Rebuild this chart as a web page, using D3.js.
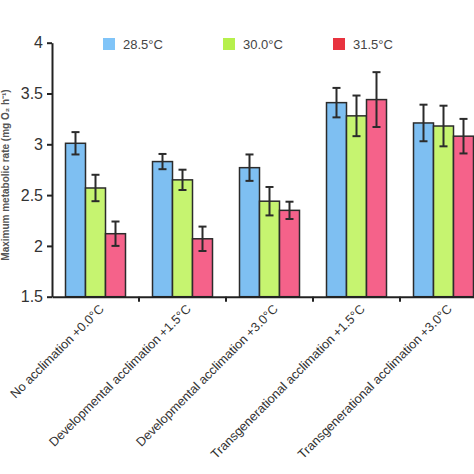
<!DOCTYPE html>
<html><head><meta charset="utf-8">
<script src="https://cdn.jsdelivr.net/npm/d3@7"></script>
<style>body{margin:0;background:#fff;} svg{display:block;font-family:"Liberation Sans",Arial,sans-serif;}</style>
</head><body>
<svg id="c" width="474" height="474"></svg>
<script>
const categories = ["No acclimation +0.0°C","Developmental acclimation +1.5°C","Developmental acclimation +3.0°C","Transgenerational acclimation +1.5°C","Transgenerational  acclimation +3.0°C"];
const seriesNames = ["28.5°C","30.0°C","31.5°C"];
const v285 = [3.01, 2.83, 2.77, 3.41, 3.21];
const v300 = [2.57, 2.65, 2.44, 3.28, 3.18];
const v315 = [2.12, 2.07, 2.35, 3.44, 3.08];
const e285 = [0.11, 0.075, 0.13, 0.145, 0.18];
const e300 = [0.13, 0.10, 0.14, 0.20, 0.20];
const e315 = [0.12, 0.12, 0.085, 0.27, 0.17];
const yTicks = [1.5, 2, 2.5, 3, 3.5, 4];
const barColors = ["#7ebff2", "#c6f470", "#f5628a"];
const legendColors = ["#80c4f8", "#b6f04c", "#e8333f"];

const vals = [v285, v300, v315], errs = [e285, e300, e315];
const svg = d3.select("#c");
const x0 = 52, x1 = 487, yTop = 42.7, yBot = 296.7;
const x = d3.scaleBand().domain(categories).range([x0, x1]).paddingInner(0).paddingOuter(0);
const xs = d3.scaleBand().domain(seriesNames).range([0, 60]);
const y = d3.scaleLinear().domain([1.5, 4]).range([yBot, yTop]);
const bw = x.bandwidth();

// bars
seriesNames.forEach((s, si) => {
  const g = svg.append("g");
  categories.forEach((c, ci) => {
    const bx = x(c) + (bw - 60) / 2 + xs(s);
    g.append("rect").attr("x", bx).attr("y", y(vals[si][ci])).attr("width", xs.bandwidth())
      .attr("height", y(1.5) - y(vals[si][ci])).attr("fill", barColors[si])
      .attr("stroke", "#2b2b2b").attr("stroke-width", 1.5);
    const cx = bx + xs.bandwidth() / 2;
    const hi = y(vals[si][ci] + errs[si][ci]), lo = y(vals[si][ci] - errs[si][ci]);
    g.append("line").attr("x1", cx).attr("x2", cx).attr("y1", hi).attr("y2", lo).attr("stroke", "#2b2b2b").attr("stroke-width", 2);
    [hi, lo].forEach(yy => g.append("line").attr("x1", cx - 4).attr("x2", cx + 4).attr("y1", yy).attr("y2", yy).attr("stroke", "#2b2b2b").attr("stroke-width", 2));
  });
});

// y axis
const ya = svg.append("g").attr("transform", `translate(${x0},0)`)
  .call(d3.axisLeft(y).tickValues(yTicks).tickFormat(d3.format("")).tickSize(5).tickPadding(4).tickSizeOuter(0));
ya.select(".domain").attr("stroke", "#222").attr("stroke-width", 2);
ya.selectAll(".tick line").attr("stroke", "#222").attr("stroke-width", 2);
ya.selectAll(".tick text").attr("font-size", 16).attr("fill", "#333").attr("font-family", "Liberation Sans, Arial, sans-serif");

// x axis
const xa = svg.append("g").attr("transform", `translate(0,${yBot})`)
  .call(d3.axisBottom(x).tickSizeOuter(0).tickSize(0).tickFormat(""));
xa.select(".domain").attr("stroke", "#222").attr("stroke-width", 2);
categories.slice(1).forEach(c => {
  xa.append("line").attr("x1", x(c)).attr("x2", x(c)).attr("y1", 0).attr("y2", 5).attr("stroke", "#222").attr("stroke-width", 2);
});
categories.forEach(c => {
  const cx = x(c) + bw / 2 + 6;
  svg.append("text").attr("transform", `translate(${cx},${yBot + 10}) rotate(-45)`)
    .attr("text-anchor", "end").attr("font-size", 12.7).attr("fill", "#333").attr("dy", "0.35em")
    .text(c);
});

// y title (at the left edge)
svg.append("text").attr("transform", `translate(9,175) rotate(-90)`).attr("text-anchor", "middle")
  .attr("font-size", 10).attr("font-weight", "bold").attr("fill", "#555")
  .text("Maximum metabolic rate (mg O₂ h⁻¹)");

// legend
const legX = [103, 223, 333];
seriesNames.forEach((s, i) => {
  svg.append("rect").attr("x", legX[i]).attr("y", 38).attr("width", 12).attr("height", 12).attr("fill", legendColors[i]);
  svg.append("text").attr("x", legX[i] + 20).attr("y", 48.5).attr("font-size", 13).attr("fill", "#444").text(s);
});
</script>
</body></html>
